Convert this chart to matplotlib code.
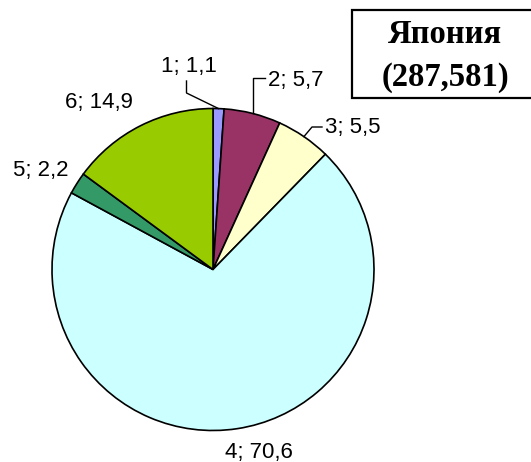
import numpy as np
import matplotlib
matplotlib.use('Agg')
import matplotlib.pyplot as plt
from matplotlib.patches import Rectangle

# structure of Japan (shares, %)
sectors = ['1', '2', '3', '4', '5', '6']
shares = [1.1, 5.7, 5.5, 70.6, 2.2, 14.9]
colors = ['#9999FF', '#993366', '#FFFFCC', '#CCFFFF', '#339966', '#99CC00']
title_lines = ['Япония', '(287,581)']

W, H = 531, 462
cx, cy, R = 213, 269.5, 161

def px(x, y):
    # pixel position -> data units (pie radius = 1)
    return (x - cx) / R, (cy - y) / R

fig = plt.figure(figsize=(W / 100, H / 100), dpi=100)
ax = fig.add_axes([0, 0, 1, 1])
ax.axis('off')

wedges, _ = ax.pie(shares, colors=colors, startangle=90, counterclock=False,
                   radius=1, center=(0, 0),
                   wedgeprops=dict(edgecolor='black', linewidth=1.2))
ax.set_xlim(-cx / R, (W - cx) / R)
ax.set_ylim((cy - H) / R, cy / R)
ax.set_aspect('equal')

labels = ['{}; {}'.format(s, str(v).replace('.', ',')) for s, v in zip(sectors, shares)]

# mid angle of each wedge
mids = []
start = 90.0
for v in shares:
    sweep = v / sum(shares) * 360
    mids.append(np.deg2rad(start - sweep / 2))
    start -= sweep

lab_font = dict(fontsize=16, family='Liberation Sans', va='baseline')

# 1: leader with elbow
e = (np.cos(mids[0]), np.sin(mids[0]))
p1 = px(186.5, 93)
p2 = px(186.5, 81)
ax.plot([e[0], p1[0], p2[0]], [e[1], p1[1], p2[1]], color='black', lw=1)
ax.text(*px(189, 72), labels[0], ha='center', **lab_font)

# 2
e = (np.cos(mids[1]), np.sin(mids[1]))
p1 = px(0, 78)
p2 = px(265, 78)
ax.plot([e[0], e[0], p2[0]], [e[1], p1[1], p2[1]], color='black', lw=1)
ax.text(*px(268, 86), labels[1], ha='left', **lab_font)

# 3
e = (np.cos(mids[2]), np.sin(mids[2]))
p1 = px(312, 127)
p2 = px(322, 127)
ax.plot([e[0], p1[0], p2[0]], [e[1], p1[1], p2[1]], color='black', lw=1)
ax.text(*px(325, 133), labels[2], ha='left', **lab_font)

ax.text(*px(258.5, 458), labels[3], ha='center', **lab_font)
ax.text(*px(41, 176), labels[4], ha='center', **lab_font)
ax.text(*px(99, 108), labels[5], ha='center', **lab_font)

# title box, right side runs off the figure
bx0, by0 = px(352, 98)
bx1, by1 = px(545, 10)
ax.add_patch(Rectangle((bx0, by0), bx1 - bx0, by1 - by0, facecolor='white',
                       edgecolor='black', linewidth=1.6, clip_on=False))
title_font = dict(ha='center', va='baseline', fontsize=23.5,
                  fontweight='bold', family='Liberation Serif')
ax.text(*px(445, 43), title_lines[0], **title_font)
ax.text(*px(445, 86), title_lines[1], **title_font)

fig.savefig('out.png', dpi=100)
